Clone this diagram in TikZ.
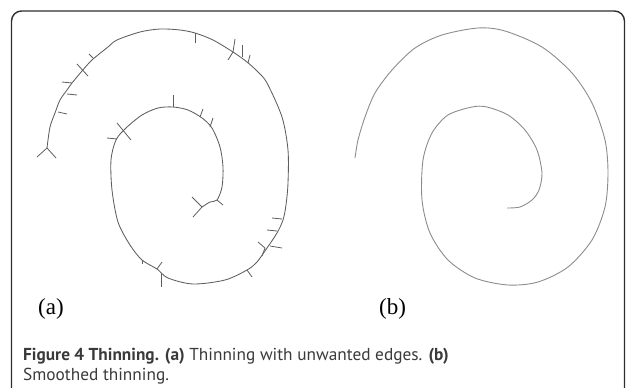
\documentclass[tikz,border=0pt]{standalone}
\usepackage{fontspec}
\setmainfont{Liberation Serif}
\newfontfamily\capfont{PT Sans}
\usetikzlibrary{positioning}
\definecolor{FrameGray}{HTML}{2E2E2E}
\definecolor{ThinDark}{HTML}{5E5E5E}
\definecolor{ThinLight}{HTML}{8C8C8C}
\definecolor{CapText}{HTML}{3A3A3A}
\tikzset{
    % Outer frame - rounded top corners, open at the bottom
    frame/.style={
        draw=FrameGray,
        line width=1.4pt,
        rounded corners=10pt
    },
    % Thinned skeletons
    thinraw/.style={
        draw=ThinDark,
        line width=0.85pt,
        line join=round
    },
    spur/.style={
        draw=ThinDark,
        line width=0.8pt
    },
    thinsmooth/.style={
        draw=ThinLight,
        line width=0.9pt,
        line join=round
    },
    % Text
    sublabel/.style={
        anchor=base,
        inner sep=0pt,
        font=\fontsize{23}{25}\selectfont
    },
    caption/.style={
        anchor=base west,
        inner sep=0pt,
        text=CapText,
        font=\capfont\fontsize{17.3}{19.5}\selectfont
    }
}

\begin{document}
\begin{tikzpicture}[x=1pt, y=-1pt]
    \useasboundingbox (0,0) rectangle (635,388);

    % Frame
    \draw[frame] (11.5,400) -- (11.5,11) -- (624.5,11) -- (624.5,400);

    % (a) Thinning with spurs
    \draw[thinraw] plot[smooth] coordinates {
        (47,148) (50,127) (55,113) (60,100) (67,90) (72,83) (82,71) (92,60)
        (108,47) (117,40) (140,32) (160,29) (180,30) (195,33) (213,40) (233,52)
        (247,62) (258,72) (267,83) (282,117) (288,150) (288,183) (286,205)
        (283,220) (277,233) (267,248) (257,262) (247,270) (225,280) (193,284)
        (168,278) (157,269) (142,260) (130,245) (118,222) (112,190) (111,160)
        (116,140) (126,128) (142,115) (158,108) (173,107) (188,110) (202,118)
        (212,128) (220,147) (223,167) (222,187) (217,200) (210,202) (202,207)};
    \foreach \xa/\ya/\xb/\yb in {
        47/148/37/157, 47/148/56/158, 58/112/67/114, 67/94/77/95,
        72/83/62/82, 77/64/88/76, 93/58/89/54,
        195/33/195/43, 233/52/235/39, 233/52/228/60, 242/57/242/45,
        248/63/250/55,
        173/107/173/95, 200/117/203/109, 210/127/213/118,
        117/123/131/140, 117/139/107/138,
        202/207/192/197, 202/207/193/217, 217/200/223/205,
        282/219/272/218, 277/231/267/230, 270/246/282/248,
        265/248/258/242, 265/248/262/256, 247/270/252/277,
        142/260/142/264, 157/269/162/262, 161/274/161/287}
        \draw[spur] (\xa,\ya) -- (\xb,\yb);
    \node[sublabel] (laba) at (51,314) {(a)};

    % (b) Smoothed thinning
    \draw[thinsmooth] plot[smooth] coordinates {
        (355,158) (358,140) (365,117) (375,93) (392,70) (415,48) (442,35)
        (478,28) (505,31) (542,47) (572,73) (592,103) (605,140) (608,173)
        (605,207) (592,240) (568,267) (538,282) (508,285) (475,278) (448,260)
        (430,233) (422,200) (423,160) (432,133) (448,115) (472,107) (487,107)
        (508,115) (525,130) (537,150) (542,173) (539,190) (532,200) (520,207)
        (507,208)};
    \node[sublabel] (labb) at (392.5,314) {(b)};

    % Caption
    \node[caption] (capone) at (23,360.5) {\textbf{Figure 4 Thinning. (a)} Thinning with unwanted edges. \textbf{(b)}};
    \node[caption] (captwo) at (23,380) {Smoothed thinning.};
\end{tikzpicture}
\end{document}
